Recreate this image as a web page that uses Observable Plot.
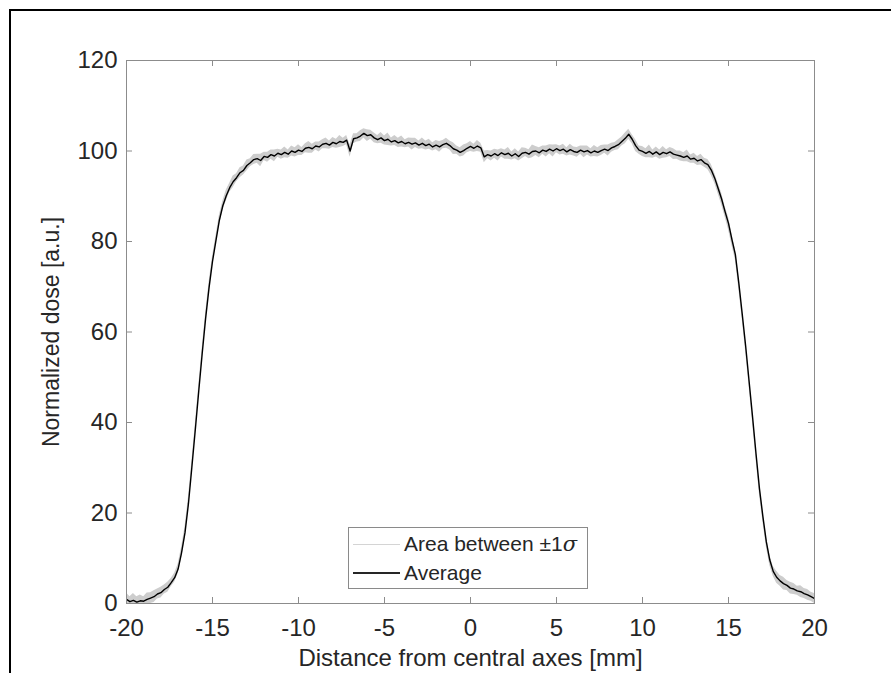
<!DOCTYPE html>
<html>
<head>
<meta charset="utf-8">
<script src="https://cdn.jsdelivr.net/npm/d3@7"></script>
<script src="https://cdn.jsdelivr.net/npm/@observablehq/plot@0.6"></script>
<style>
  html, body { margin: 0; padding: 0; background: #fff; }
  #wrap { position: relative; width: 891px; height: 673px; overflow: hidden; background: #fff; }
  #wrap svg { position: absolute; left: 0; top: 0; }
  #figborder { position: absolute; left: 9px; top: 9px; width: 1000px; height: 1000px;
    border-left: 2px solid #000; border-top: 2px solid #000; pointer-events: none; }
  #legend { position: absolute; left: 348px; top: 527px; width: 240px; height: 62px; box-sizing: border-box;
    border: 1px solid #8a8a8a; background: #fff; font-family: "Liberation Sans", Arial, sans-serif;
    font-size: 21px; color: #262626; }
  .row { position: absolute; left: 0; height: 26px; line-height: 26px; white-space: nowrap; }
  .sw { position: absolute; left: 4px; width: 47px; top: 13px; }
  .lab { position: absolute; left: 55px; top: 0; }
</style>
</head>
<body>
<div id="wrap"></div>
<script>
// Sampling grid of the profile (mm)
const xStart = -20;
const xStep = 0.2;

// Average normalized dose, one value per 0.2 mm from -20 to 20 mm
const average = [
  0.9, 0.4, 0.7, 0.3, 0.6, 0.5, 0.9, 1.2, 1.5, 2.1,          // -20.0 .. -18.2
  2.4, 3.1, 3.6, 4.6, 5.7, 7.6, 11.2, 15.6, 22.0, 30.1,       // -18.0 .. -16.2
  38.4, 46.9, 55.2, 63.0, 69.8, 75.6, 80.2, 84.7, 87.9, 90.1, // -16.0 .. -14.2
  91.9, 93.2, 94.1, 95.2, 95.7, 96.8, 97.4, 98.1, 98.3, 97.9, // -14.0 .. -12.2
  98.8, 98.6, 99.2, 98.9, 99.5, 99.2, 99.7, 99.3, 100.0, 99.7, // -12.0 .. -10.2
  100.2, 99.9, 100.6, 100.8, 100.5, 101.1, 100.9, 101.5, 101.7, 101.3, // -10.0 .. -8.2
  101.9, 101.6, 102.1, 101.9, 102.4, 100.0, 102.7, 102.9, 103.3, 103.9, // -8.0 .. -6.2
  103.4, 103.6, 102.9, 102.5, 102.9, 102.3, 102.6, 102.0, 102.3, 101.8, // -6.0 .. -4.2
  102.1, 101.6, 101.9, 101.5, 101.8, 101.3, 101.7, 101.2, 101.5, 100.9, // -4.0 .. -2.2
  101.3, 100.9, 101.4, 101.7, 101.2, 100.5, 100.2, 99.7, 100.1, 100.6,  // -2.0 .. -0.2
  101.0, 100.6, 101.1, 100.7, 98.7, 99.2, 98.9, 99.4, 99.0, 99.6,       // 0.0 .. 1.8
  99.2, 99.5, 98.9, 99.4, 98.8, 99.5, 99.7, 99.3, 99.9, 100.0,          // 2.0 .. 3.8
  99.6, 100.2, 99.9, 100.4, 100.0, 100.5, 100.1, 100.4, 99.8, 100.3,    // 4.0 .. 5.8
  99.9, 99.7, 100.2, 99.8, 100.1, 99.6, 100.0, 99.7, 100.1, 100.4,      // 6.0 .. 7.8
  100.1, 100.7, 101.0, 101.4, 102.1, 102.8, 103.7, 102.6, 101.2, 100.2, // 8.0 .. 9.8
  99.9, 99.5, 99.9, 99.3, 99.8, 99.2, 99.7, 99.4, 99.8, 99.3,           // 10.0 .. 11.8
  99.1, 98.9, 98.6, 98.9, 98.2, 98.4, 97.8, 98.1, 97.4, 97.0,           // 12.0 .. 13.8
  95.8, 94.0, 91.7, 89.4, 86.6, 84.0, 80.4, 77.1, 70.8, 63.9,           // 14.0 .. 15.8
  56.8, 49.0, 41.2, 33.1, 25.4, 19.2, 13.6, 9.6, 7.1, 5.8,              // 16.0 .. 17.8
  5.0, 4.4, 4.0, 3.4, 3.2, 2.8, 2.6, 2.2, 1.9, 1.5,                     // 18.0 .. 19.8
  1.1                                                                   // 20.0
];

// Standard deviation (one sigma) at the same positions
const sigma = [
  1.4, 1.1, 1.5, 1.2, 1.3, 1.0, 1.4, 1.2, 1.3, 1.1,
  1.2, 1.0, 1.1, 0.9, 1.0, 1.1, 1.2, 1.3, 1.4, 1.3,
  1.2, 1.3, 1.2, 1.1, 1.2, 1.1, 1.0, 1.1, 1.0, 1.2,
  1.0, 1.3, 0.9, 1.1, 1.0, 1.2, 0.9, 1.1, 1.0, 1.4,
  0.9, 1.1, 1.0, 1.3, 0.9, 1.0, 1.2, 0.9, 1.1, 1.0,
  1.2, 0.9, 1.0, 1.3, 1.0, 0.9, 1.1, 1.0, 1.2, 0.9,
  1.1, 1.0, 1.3, 0.9, 1.0, 1.4, 1.1, 0.9, 1.2, 1.0,
  1.3, 1.0, 1.1, 0.9, 1.2, 1.0, 1.4, 0.9, 1.1, 1.0,
  1.2, 0.9, 1.0, 1.3, 1.0, 0.9, 1.2, 1.0, 1.1, 0.9,
  1.0, 1.2, 0.9, 1.1, 1.0, 1.3, 0.9, 1.0, 1.2, 1.0,
  1.1, 0.9, 1.2, 1.0, 1.3, 0.9, 1.1, 1.0, 1.2, 0.9,
  1.0, 1.3, 0.9, 1.1, 1.0, 1.2, 0.9, 1.0, 1.4, 1.0,
  1.1, 0.9, 1.2, 1.0, 1.3, 0.9, 1.0, 1.1, 0.9, 1.2,
  1.0, 1.1, 0.9, 1.3, 1.0, 0.9, 1.2, 1.0, 1.1, 0.9,
  1.2, 1.0, 0.9, 1.1, 1.0, 1.2, 1.1, 1.0, 1.3, 0.9,
  1.1, 1.0, 1.4, 0.9, 1.1, 1.0, 1.3, 0.9, 1.0, 1.2,
  0.9, 1.1, 1.0, 1.3, 0.9, 1.1, 1.0, 1.2, 1.0, 1.1,
  1.2, 1.1, 1.2, 1.3, 1.2, 1.4, 1.3, 1.2, 1.3, 1.2,
  1.3, 1.2, 1.3, 1.2, 1.3, 1.2, 1.1, 1.2, 1.1, 1.3,
  1.2, 1.4, 1.1, 1.3, 1.2, 1.0, 1.3, 1.1, 1.2, 1.0,
  1.1
];

const xTicks = [-20, -15, -10, -5, 0, 5, 10, 15, 20];
const yTicks = [0, 20, 40, 60, 80, 100, 120];
const xLabel = "Distance from central axes [mm]";
const yLabel = "Normalized dose [a.u.]";
const legendBand = "Area between \u00b11";
const legendSigma = "\u03c3";
const legendLine = "Average";

const data = average.map((v, i) => ({x: xStart + i * xStep, avg: v, sd: sigma[i]}));

const W = 891, H = 673;
const mL = 126, mR = 77, mT = 60, mB = 70;
const frameW = W - mL - mR, frameH = H - mT - mB;
const axisColor = "#8c8c8c";
const textColor = "#262626";
const tickLen = 6;

const chart = Plot.plot({
  width: W, height: H,
  marginLeft: mL, marginRight: mR, marginTop: mT, marginBottom: mB,
  style: {fontFamily: "'Liberation Sans', Arial, sans-serif", fontSize: "24px", color: textColor, background: "transparent"},
  x: {domain: [-20, 20]},
  y: {domain: [0, 120]},
  marks: [
    Plot.areaY(data, {x: "x", y1: d => d.avg - d.sd, y2: d => d.avg + d.sd, fill: "#cdcdcd", clip: true, curve: "linear"}),
    Plot.lineY(data, {x: "x", y: "avg", stroke: "#000", strokeWidth: 1.4, clip: true}),
    Plot.frame({stroke: axisColor, strokeWidth: 1}),
    Plot.tickX(xTicks, {x: d => d, insetTop: frameH - tickLen, stroke: axisColor}),
    Plot.tickX(xTicks, {x: d => d, insetBottom: frameH - tickLen, stroke: axisColor}),
    Plot.tickY(yTicks, {y: d => d, insetRight: frameW - tickLen, stroke: axisColor}),
    Plot.tickY(yTicks, {y: d => d, insetLeft: frameW - tickLen, stroke: axisColor}),
    Plot.axisX({ticks: xTicks, tickSize: 0, tickPadding: 15, tickFormat: d => String(d), label: null, fontSize: 24, fill: textColor}),
    Plot.axisY({ticks: yTicks, tickSize: 0, tickPadding: 9, tickFormat: d => String(d), label: null, fontSize: 24, fill: textColor}),
    Plot.axisX({ticks: [], tickSize: 0, label: xLabel, labelAnchor: "center", labelArrow: "none", labelOffset: 62, fontSize: 24, fill: textColor}),
    Plot.axisY({ticks: [], tickSize: 0, label: yLabel, labelAnchor: "center", labelArrow: "none", labelOffset: 84, fontSize: 23, fill: textColor})
  ]
});

const wrap = document.getElementById("wrap");
wrap.appendChild(chart);

// Legend (inside the axes, as in the reference)
const lg = document.createElement("div");
lg.id = "legend";
lg.innerHTML =
  `<div class="row" style="top:3px;width:100%"><div class="sw" style="border-top:1px solid #d4d4d4"></div>` +
  `<span class="lab">${legendBand}<i style="font-family:'DejaVu Serif',serif">${legendSigma}</i></span></div>` +
  `<div class="row" style="top:32px;width:100%"><div class="sw" style="border-top:2px solid #262626;top:12px"></div>` +
  `<span class="lab">${legendLine}</span></div>`;
wrap.appendChild(lg);

const fb = document.createElement("div");
fb.id = "figborder";
wrap.appendChild(fb);
</script>
</body>
</html>
